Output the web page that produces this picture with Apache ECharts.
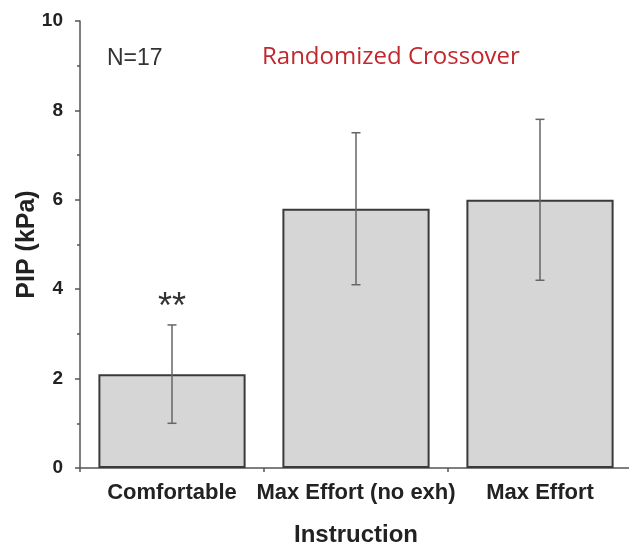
<!DOCTYPE html>
<html>
<head>
<meta charset="utf-8">
<script src="https://cdn.jsdelivr.net/npm/echarts@6/dist/echarts.min.js"></script>
<style>html,body{margin:0;padding:0;background:#fff;}#c{width:629px;height:548px;}</style>
</head>
<body>
<div id="c"></div>
<script>
const categories = ['Comfortable', 'Max Effort (no exh)', 'Max Effort'];
const pipMean = [2.1, 5.8, 6.0];
const errUpper = [3.2, 7.5, 7.8];
const errLower = [1.0, 4.1, 4.2];
const significance = ['**', '', ''];
const yTicks = [0, 2, 4, 6, 8, 10];

const chart = echarts.init(document.getElementById('c'), null, {renderer: 'canvas'});

const errData = categories.map((c, i) => [i, errLower[i], errUpper[i], significance[i]]);

const option = {
  backgroundColor: '#ffffff',
  animation: false,
  grid: {left: 80, top: 21, width: 552, height: 447, containLabel: false, outerBoundsMode: 'none'},
  xAxis: [{
    type: 'category',
    data: categories,
    name: 'Instruction',
    nameLocation: 'middle',
    nameGap: 55,
    nameTextStyle: {fontFamily: 'Liberation Sans', fontWeight: 'bold', fontSize: 24, color: '#222'},
    axisLine: {lineStyle: {color: '#555', width: 1.5}},
    axisTick: {alignWithLabel: true, inside: false, length: 8, lineStyle: {color: '#555', width: 1.5}},
    axisLabel: {fontFamily: 'Liberation Sans', fontWeight: 'bold', fontSize: 22, color: '#222', margin: 14, interval: 0}
  }, {
    type: 'value',
    position: 'bottom',
    min: 0, max: 3, interval: 1,
    axisLine: {show: false},
    axisTick: {show: true, length: 4, lineStyle: {color: '#555', width: 1.5}},
    axisLabel: {show: false},
    splitLine: {show: false}
  }],
  yAxis: {
    type: 'value',
    min: yTicks[0], max: yTicks[yTicks.length - 1], interval: 2,
    name: 'PIP (kPa)',
    nameLocation: 'middle',
    nameGap: 40,
    nameMoveOverlap: false,
    nameRotate: 90,
    nameTextStyle: {fontFamily: 'Liberation Sans', fontWeight: 'bold', fontSize: 25, color: '#222'},
    axisLine: {show: true, lineStyle: {color: '#555', width: 1.5}},
    axisTick: {show: true, length: 5, lineStyle: {color: '#555', width: 1.5}},
    minorTick: {show: true, splitNumber: 2, length: 3, lineStyle: {color: '#555', width: 1.5}},
    axisLabel: {fontFamily: 'Liberation Sans', fontWeight: 'bold', fontSize: 19, color: '#222', margin: 17},
    splitLine: {show: false}
  },
  series: [{
    type: 'bar',
    data: pipMean,
    barCategoryGap: '20%',
    itemStyle: {color: '#d6d6d6', borderColor: '#3a3a3a', borderWidth: 2},
    z: 2
  }, {
    type: 'custom',
    data: errData,
    z: 3,
    renderItem: function (params, api) {
      const x = api.value(0);
      const lo = api.coord([x, api.value(1)]);
      const hi = api.coord([x, api.value(2)]);
      const cap = 4.5;
      const style = {stroke: '#666', lineWidth: 1.5};
      const children = [
        {type: 'line', shape: {x1: lo[0], y1: lo[1], x2: hi[0], y2: hi[1]}, style: style},
        {type: 'line', shape: {x1: lo[0] - cap, y1: lo[1], x2: lo[0] + cap, y2: lo[1]}, style: style},
        {type: 'line', shape: {x1: hi[0] - cap, y1: hi[1], x2: hi[0] + cap, y2: hi[1]}, style: style}
      ];
      const sig = significance[params.dataIndex];
      if (sig) {
        children.push({type: 'text', style: {text: sig, x: hi[0], y: hi[1] - 35, align: 'center', verticalAlign: 'top',
          font: '36px "Liberation Sans"', fill: '#333'}});
      }
      return {type: 'group', children: children};
    }
  }],
  graphic: [
    {type: 'text', left: 107, top: 47, style: {text: 'N=17', font: '23px "Liberation Sans"', fill: '#333'}},
    {type: 'text', left: 262, top: 45, style: {text: 'Randomized Crossover', font: '24px "Open Sans"', fill: '#c1272d'}}
  ]
};
chart.setOption(option);
</script>
</body>
</html>
